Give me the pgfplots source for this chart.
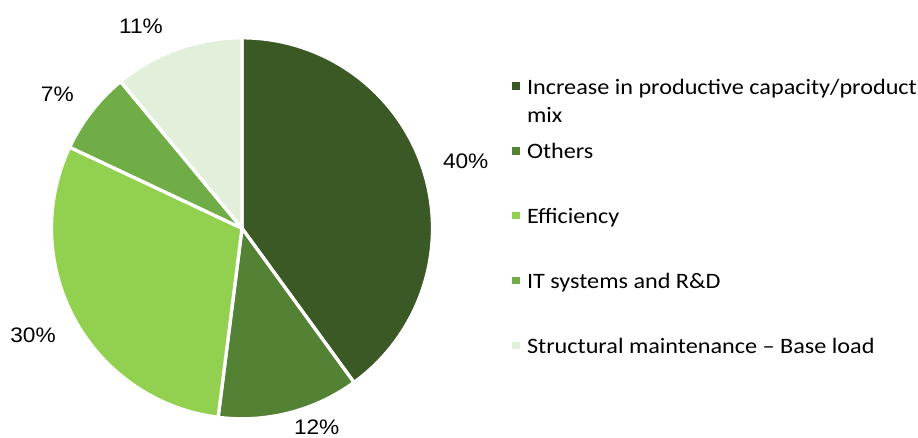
\documentclass[border=0pt]{standalone}
\usepackage{fontspec}
\setmainfont[FakeStretch=1.1]{Carlito}
\newfontfamily\arialf[FakeStretch=1.08]{Liberation Sans}
\usepackage{pgfplots}
\pgfplotsset{compat=1.18}
\definecolor{cA}{HTML}{3A5924}
\definecolor{cB}{HTML}{548235}
\definecolor{cC}{HTML}{92D050}
\definecolor{cD}{HTML}{70AD47}
\definecolor{cE}{HTML}{E2EFDA}
% shares (percent), clockwise from 12 o'clock
\def\pA{40}\def\pB{12}\def\pC{30}\def\pD{7}\def\pE{11}
\def\cx{242}\def\cy{208.7}\def\r{190.5}
\begin{document}
\begin{tikzpicture}
\begin{axis}[
  hide axis, scale only axis, width=918pt, height=437pt,
  xmin=0, xmax=918, ymin=0, ymax=437, clip=false,
  legend style={at={(0.5581,0.8215)}, anchor=north west, draw=none, fill=none,
    inner sep=0pt, outer sep=0pt, row sep=0pt, column sep=7.3pt,
    font=\fontsize{22}{28}\selectfont,
    nodes={inner sep=0pt, outer sep=0pt, anchor=base west,
      text height=16pt, text depth=48.8pt}},
  legend cell align=left,
  legend image code/.code={\fill[#1,draw=none] (0pt,4.2pt) rectangle (7.4pt,11.6pt);},
  every axis plot/.append style={draw=white, line width=3.3pt, line join=round, samples=120, variable=\t},
]
\addplot[fill=cA, domain={90-3.6*\pA}:{90}]
  ({\cx+\r*cos(\t)},{\cy+\r*sin(\t)}) -- (axis cs:\cx,\cy) -- cycle;
\addplot[fill=cB, domain={90-3.6*(\pA+\pB)}:{90-3.6*\pA}]
  ({\cx+\r*cos(\t)},{\cy+\r*sin(\t)}) -- (axis cs:\cx,\cy) -- cycle;
\addplot[fill=cC, domain={90-3.6*(\pA+\pB+\pC)}:{90-3.6*(\pA+\pB)}]
  ({\cx+\r*cos(\t)},{\cy+\r*sin(\t)}) -- (axis cs:\cx,\cy) -- cycle;
\addplot[fill=cD, domain={90-3.6*(\pA+\pB+\pC+\pD)}:{90-3.6*(\pA+\pB+\pC)}]
  ({\cx+\r*cos(\t)},{\cy+\r*sin(\t)}) -- (axis cs:\cx,\cy) -- cycle;
\addplot[fill=cE, domain={90-3.6*(\pA+\pB+\pC+\pD+\pE)}:{90-3.6*(\pA+\pB+\pC+\pD)}]
  ({\cx+\r*cos(\t)},{\cy+\r*sin(\t)}) -- (axis cs:\cx,\cy) -- cycle;
\legend{{\begin{tabular}[t]{@{}l@{}}Increase in productive capacity/product\\mix\end{tabular}},Others,Efficiency,IT systems and R\&D,Structural maintenance -- Base load}
\begin{scope}[every node/.style={font=\arialf\fontsize{21}{26}\selectfont, anchor=base, inner sep=0pt}]
\node at (axis cs:465.7,268.3) {40\%};
\node at (axis cs:316.7,3) {12\%};
\node at (axis cs:33,94.7) {30\%};
\node at (axis cs:57.3,335.3) {7\%};
\node at (axis cs:141,403) {11\%};
\end{scope}
\end{axis}
\pgfresetboundingbox
\path (0,0) rectangle (918pt,437pt);
\end{tikzpicture}
\end{document}
